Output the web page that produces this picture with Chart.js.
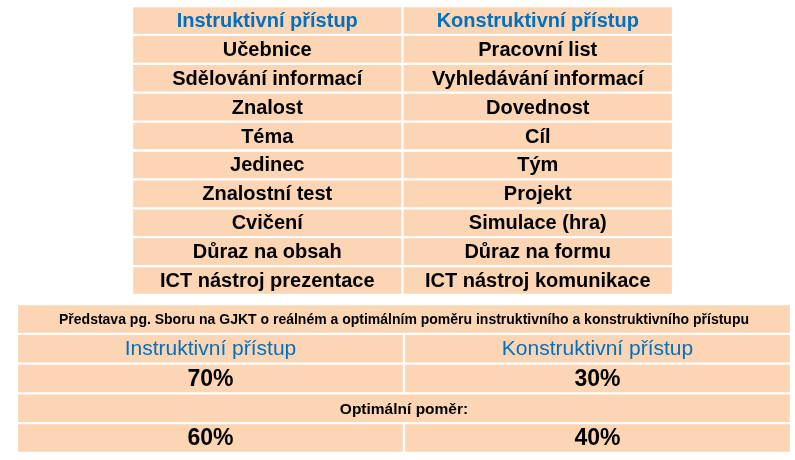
<!DOCTYPE html>
<html>
<head>
<meta charset="utf-8">
<script src="https://cdn.jsdelivr.net/npm/chart.js@4"></script>
<style>
  body { margin: 0; background: #fff; width: 795px; height: 460px; position: relative; overflow: hidden; }
  .box { position: absolute; }
</style>
</head>
<body>
<div class="box" style="left:132px; top:6px; width:541px; height:289px;"><canvas id="topTable"></canvas></div>
<div class="box" style="left:17px; top:304px; width:774px; height:149px;"><canvas id="bottomTable"></canvas></div>
<script>
/* ---------- Data ---------- */
const instruktivni = ["Instruktivní přístup", "Učebnice", "Sdělování informací", "Znalost", "Téma", "Jedinec", "Znalostní test", "Cvičení", "Důraz na obsah", "ICT nástroj prezentace"];
const konstruktivni = ["Konstruktivní přístup", "Pracovní list", "Vyhledávání informací", "Dovednost", "Cíl", "Tým", "Projekt", "Simulace (hra)", "Důraz na formu", "ICT nástroj komunikace"];

const pomerRadky = ["titulek", "hlavicka", "realny", "optimalni", "optimalniHodnoty"];
const pomerTitulek = "Představa pg. Sboru na GJKT o reálném a optimálním poměru instruktivního a konstruktivního přístupu";
const pomerHlavicka = ["Instruktivní přístup", "Konstruktivní přístup"];
const realnyPomer = [70, 30];
const optimalniNadpis = "Optimální poměr:";
const optimalniPomer = [60, 40];

const peach = "#fcd5b5";
const blue = "#0070c0";
const font = "'Liberation Sans', Arial, sans-serif";

/* ---------- Cell text plugin ---------- */
const cellText = {
    id: "cellText",
    afterDatasetsDraw(chart) {
        const ctx = chart.ctx;
        ctx.save();
        ctx.textAlign = "center";
        ctx.textBaseline = "middle";
        chart.data.datasets.forEach(function (ds, di) {
            chart.getDatasetMeta(di).data.forEach(function (bar, i) {
                const t = ds.texts[i];
                if (!t || ds.data[i] == null) return;
                const st = ds.styles[i];
                ctx.font = st.font;
                ctx.fillStyle = st.color;
                const c = bar.getCenterPoint();
                ctx.fillText(t, c.x, c.y + 1);
            });
        });
        ctx.restore();
    }
};

const baseOptions = {
    indexAxis: "y",
    responsive: true,
    maintainAspectRatio: false,
    animation: false,
    events: [],
    layout: { padding: 0 },
    plugins: { legend: { display: false }, tooltip: { enabled: false } },
    scales: {
        x: { display: false, min: 0, max: 2 },
        y: { display: false, stacked: false }
    }
};

function cellSet(data, texts, styles) {
    return { data: data, texts: texts, styles: styles, backgroundColor: peach, borderColor: "#ffffff",
             borderWidth: 1.5, borderSkipped: false, grouped: false, barPercentage: 1, categoryPercentage: 1 };
}

/* ---------- Top table ---------- */
const headStyle = { font: "bold 20px " + font, color: blue };
const bodyStyle = { font: "bold 20px " + font, color: "#000" };
const topStyles = instruktivni.map(function (_, i) { return i === 0 ? headStyle : bodyStyle; });

new Chart(document.getElementById("topTable"), {
    type: "bar",
    data: {
        labels: instruktivni,
        datasets: [
            cellSet(instruktivni.map(function () { return [0, 1]; }), instruktivni, topStyles),
            cellSet(konstruktivni.map(function () { return [1, 2]; }), konstruktivni, topStyles)
        ]
    },
    options: baseOptions,
    plugins: [cellText]
});

/* ---------- Bottom table ---------- */
const titleStyle = { font: "bold 14px " + font, color: "#000" };
const hdrStyle = { font: "21px " + font, color: blue };
const valStyle = { font: "bold 23px " + font, color: "#000" };
const midStyle = { font: "bold 15.5px " + font, color: "#000" };

new Chart(document.getElementById("bottomTable"), {
    type: "bar",
    data: {
        labels: pomerRadky,
        datasets: [
            cellSet([[0, 2], null, null, [0, 2], null],
                    [pomerTitulek, null, null, optimalniNadpis, null],
                    [titleStyle, null, null, midStyle, null]),
            cellSet([null, [0, 1], [0, 1], null, [0, 1]],
                    [null, pomerHlavicka[0], realnyPomer[0] + "%", null, optimalniPomer[0] + "%"],
                    [null, hdrStyle, valStyle, null, valStyle]),
            cellSet([null, [1, 2], [1, 2], null, [1, 2]],
                    [null, pomerHlavicka[1], realnyPomer[1] + "%", null, optimalniPomer[1] + "%"],
                    [null, hdrStyle, valStyle, null, valStyle])
        ]
    },
    options: baseOptions,
    plugins: [cellText]
});
</script>
</body>
</html>
